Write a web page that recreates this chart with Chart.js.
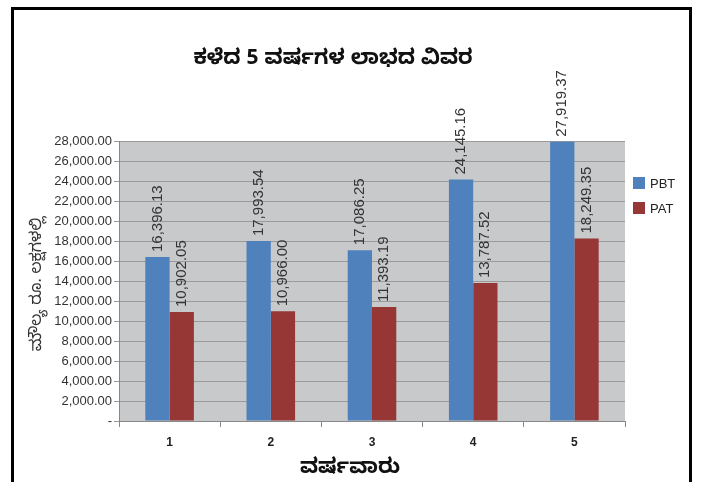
<!DOCTYPE html>
<html>
<head>
<meta charset="utf-8">
<script src="https://cdn.jsdelivr.net/npm/chart.js@4/dist/chart.umd.min.js"></script>
<style>
  html, body { margin: 0; padding: 0; background: #fff; overflow: hidden; }
  #wrap { width: 706px; height: 482px; position: relative; }
</style>
</head>
<body>
<div id="wrap"><canvas id="chart"></canvas></div>
<script>
// 年次データ（ಲಕ್ಷ ರೂ.）
const years = ['1', '2', '3', '4', '5'];
const pbtValues = [16396.13, 17993.54, 17086.25, 24145.16, 27919.37];
const patValues = [10902.05, 10966.00, 11393.19, 13787.52, 18249.35];
const seriesNames = ['PBT', 'PAT'];
const yMax = 28000;
const yStep = 2000;

const chartTitle = 'ಕಳೆದ 5 ವರ್ಷಗಳ ಲಾಭದ ವಿವರ';
const yTitle = 'ಮೌಲ್ಯ ರೂ. ಲಕ್ಷಗಳಲ್ಲಿ';
const xTitle = 'ವರ್ಷವಾರು';

const KN_FONT = "'Noto Sans Kannada', 'Lohit Kannada', 'Tunga', 'Noto Sans', sans-serif";
Chart.defaults.font.family = "'Liberation Sans', Arial, sans-serif";

const fmt2 = (v) => v.toLocaleString('en-US', { minimumFractionDigits: 2, maximumFractionDigits: 2 });

// 背景・枠・プロット領域の塗り
const backdrop = {
  id: 'backdrop',
  beforeDraw(chart) {
    const { ctx, chartArea: a } = chart;
    ctx.save();
    ctx.fillStyle = '#fff';
    ctx.fillRect(0, 0, chart.width, chart.height);
    ctx.fillStyle = '#c8c9cb';
    ctx.fillRect(a.left, a.top, a.right - a.left, a.bottom - a.top);
    ctx.strokeStyle = '#000';
    ctx.lineWidth = 3;
    ctx.beginPath();
    ctx.moveTo(12.5, 490);
    ctx.lineTo(12.5, 8.5);
    ctx.lineTo(690.5, 8.5);
    ctx.lineTo(690.5, 490);
    ctx.stroke();
    ctx.restore();
  },
};

// 値ラベル（縦書き）・タイトル・凡例
const overlay = {
  id: 'overlay',
  afterDatasetsDraw(chart) {
    const ctx = chart.ctx;
    ctx.save();
    ctx.fillStyle = '#333';
    ctx.font = "15px 'Liberation Sans', Arial, sans-serif";
    ctx.textAlign = 'left';
    ctx.textBaseline = 'middle';
    chart.data.datasets.forEach((ds, i) => {
      chart.getDatasetMeta(i).data.forEach((el, j) => {
        ctx.save();
        ctx.translate(el.x, el.y - 5);
        ctx.rotate(-Math.PI / 2);
        ctx.fillText(fmt2(ds.data[j]), 0, 0);
        ctx.restore();
      });
    });
    ctx.restore();
  },
  afterDraw(chart) {
    const ctx = chart.ctx;
    ctx.save();
    ctx.fillStyle = '#111';
    ctx.textAlign = 'center';
    ctx.textBaseline = 'middle';
    ctx.font = 'bold 21px ' + KN_FONT;
    ctx.fillText(chartTitle, 333, 62);
    ctx.fillText(xTitle, 350, 471);

    ctx.fillStyle = '#333';
    ctx.font = '16px ' + KN_FONT;
    ctx.save();
    ctx.translate(39, 284);
    ctx.rotate(-Math.PI / 2);
    ctx.fillText(yTitle, 0, 0);
    ctx.restore();

    // 凡例
    ctx.textAlign = 'left';
    ctx.font = "13px 'Liberation Sans', Arial, sans-serif";
    chart.data.datasets.forEach((ds, i) => {
      const y = 183 + i * 25;
      ctx.fillStyle = ds.backgroundColor;
      ctx.fillRect(633, y - 6, 12, 12);
      ctx.fillStyle = '#222';
      ctx.fillText(ds.label, 650, y + 1);
    });
    ctx.restore();
  },
};

new Chart(document.getElementById('chart'), {
  type: 'bar',
  data: {
    labels: years,
    datasets: [
      { label: seriesNames[0], data: pbtValues, backgroundColor: '#4f81bd' },
      { label: seriesNames[1], data: patValues, backgroundColor: '#963735' },
    ],
  },
  options: {
    responsive: true,
    maintainAspectRatio: false,
    animation: false,
    layout: { padding: { top: 141, right: 81, left: 0, bottom: 0 } },
    datasets: { bar: { barPercentage: 1, categoryPercentage: 0.48 } },
    plugins: { legend: { display: false }, title: { display: false }, tooltip: { enabled: false } },
    scales: {
      x: {
        afterFit: (s) => { s.height = 61; },
        grid: { drawOnChartArea: false, color: '#888', tickLength: 6 },
        border: { color: '#888' },
        ticks: { color: '#222', font: { size: 12, weight: 'bold' }, padding: 8 },
      },
      y: {
        min: 0,
        max: yMax,
        afterFit: (s) => { s.width = 119; },
        ticks: {
          stepSize: yStep,
          color: '#333',
          font: { size: 13 },
          padding: 2,
          callback: (v) => (v === 0 ? '-' : fmt2(v)),
        },
        grid: { color: '#9a9a9a', tickLength: 5 },
        border: { color: '#888' },
      },
    },
  },
  plugins: [backdrop, overlay],
});
</script>
</body>
</html>
